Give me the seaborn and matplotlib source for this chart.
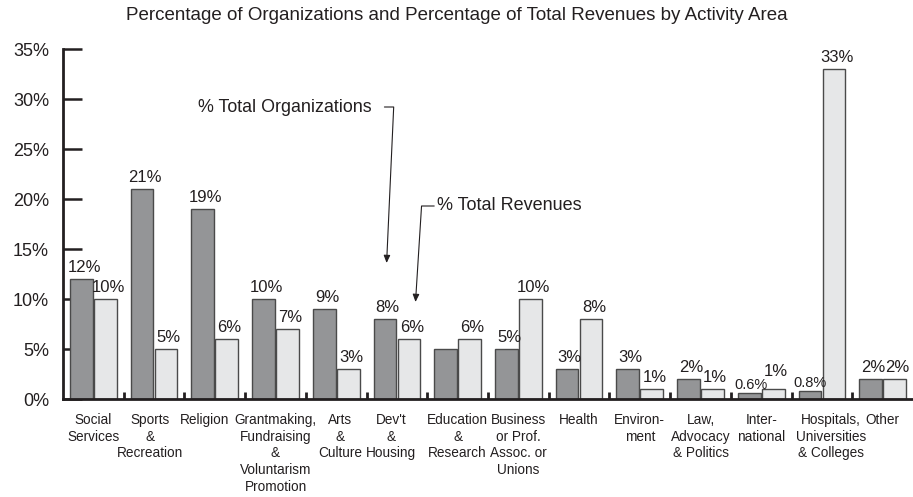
import matplotlib
matplotlib.use("Agg")
import matplotlib.pyplot as plt
import matplotlib.transforms as mtransforms
import seaborn as sns
import pandas as pd

# data
categories = ["Social\nServices", "Sports\n&\nRecreation", "Religion",
              "Grantmaking,\nFundraising\n&\nVoluntarism\nPromotion",
              "Arts\n&\nCulture", "Dev't\n&\nHousing", "Education\n&\nResearch",
              "Business\nor Prof.\nAssoc. or\nUnions", "Health", "Environ-\nment",
              "Law,\nAdvocacy\n& Politics", "Inter-\nnational",
              "Hospitals,\nUniversities\n& Colleges", "Other"]
org_pct = [12, 21, 19, 10, 9, 8, 5, 5, 3, 3, 2, 0.6, 0.8, 2]
rev_pct = [10, 5, 6, 7, 3, 6, 6, 10, 8, 1, 1, 1, 33, 2]
org_labels = ["12%", "21%", "19%", "10%", "9%", "8%", "", "5%", "3%", "3%", "2%", "0.6%", "0.8%", "2%"]
rev_labels = ["10%", "5%", "6%", "7%", "3%", "6%", "6%", "10%", "8%", "1%", "1%", "1%", "33%", "2%"]
y_ticks = [0, 5, 10, 15, 20, 25, 30, 35]

series = ["% Total Organizations", "% Total Revenues"]
df = pd.DataFrame({
    "category": categories * 2,
    "series": [series[0]] * len(categories) + [series[1]] * len(categories),
    "value": org_pct + rev_pct,
})

sns.set_style("white")
plt.rcParams["font.family"] = ["Liberation Sans", "DejaVu Sans"]
ink = "#231f20"

fig = plt.figure(figsize=(9.13, 4.97), dpi=100)
ax = fig.add_axes([63 / 913, 98 / 497, 1 - 63 / 913, 350 / 497])

sns.barplot(data=df, x="category", y="value", hue="series", ax=ax,
            palette={series[0]: "#939598", series[1]: "#e6e7e8"},
            width=0.79, gap=0.05, edgecolor="#4a4a4a", linewidth=1,
            legend=False)

# value labels above bars, with a few nudges where they crowd
nudge = {(1, 11): (0, 4), (0, 11): (-1, -2), (0, 12): (-2, -2)}
small = {(0, 11), (0, 12)}
for s, (cont, labs) in enumerate(zip(ax.containers, [org_labels, rev_labels])):
    for i, (bar, lab) in enumerate(zip(cont, labs)):
        if not lab:
            continue
        dx, dy = nudge.get((s, i), (0, 0))
        ax.annotate(lab, (bar.get_x() + bar.get_width() / 2, bar.get_height()),
                    xytext=(2 + dx, 3 + dy), textcoords="offset points",
                    ha="center", va="bottom", color=ink,
                    fontsize=10.5 if (s, i) in small else 12)

ax.set_xlim(-0.5, len(categories) - 0.5)
ax.set_ylim(0, 35)
ax.set_yticks(y_ticks)
ax.set_yticklabels([f"{t}%" for t in y_ticks], fontsize=13, color=ink)
ax.tick_params(axis="y", direction="in", length=14, width=1.8, color=ink, pad=10, left=True)
ax.set_xticks(range(len(categories)))
ax.set_xticklabels(categories, fontsize=9.8, color=ink, linespacing=1.25)
ax.tick_params(axis="x", which="major", length=0, pad=10)
ax.set_xticks([i + 0.5 for i in range(len(categories) - 1)], minor=True)
ax.tick_params(axis="x", which="minor", direction="in", length=5, width=2, color=ink, bottom=True)
ax.set_xlabel("")
ax.set_ylabel("")

# category labels in the reference sit a little off-centre in places (points)
label_shift = {1: -3, 2: -7.5, 4: 3, 5: -4, 12: 6.5}
for i, lab in enumerate(ax.get_xticklabels()):
    if i in label_shift:
        lab.set_transform(lab.get_transform() +
                          mtransforms.ScaledTranslation(label_shift[i] / 72, 0, fig.dpi_scale_trans))

for side in ["top", "right"]:
    ax.spines[side].set_visible(False)
for side in ["left", "bottom"]:
    ax.spines[side].set_linewidth(2)
    ax.spines[side].set_color(ink)

# callouts
ax.annotate("% Total Organizations", xy=(4.83, 13.6), xytext=(4.58, 29.2),
            ha="right", va="center", fontsize=12.9, color=ink,
            arrowprops=dict(arrowstyle="-|>,head_length=0.35,head_width=0.15",
                            connectionstyle="angle,angleA=0,angleB=87.4,rad=0",
                            color=ink, lw=0.8, shrinkA=7, shrinkB=0))
ax.annotate("% Total Revenues", xy=(5.306, 9.7), xytext=(5.668, 19.3),
            ha="left", va="center", fontsize=13, color=ink,
            arrowprops=dict(arrowstyle="-|>,head_length=0.35,head_width=0.15",
                            connectionstyle="angle,angleA=0,angleB=86.4,rad=0",
                            color=ink, lw=0.8, shrinkA=0, shrinkB=0))

fig.text(0.5, 1 - 16 / 497, "Percentage of Organizations and Percentage of Total Revenues by Activity Area",
         ha="center", va="center", fontsize=13.5, color=ink)

fig.savefig("out.png", dpi=100)
